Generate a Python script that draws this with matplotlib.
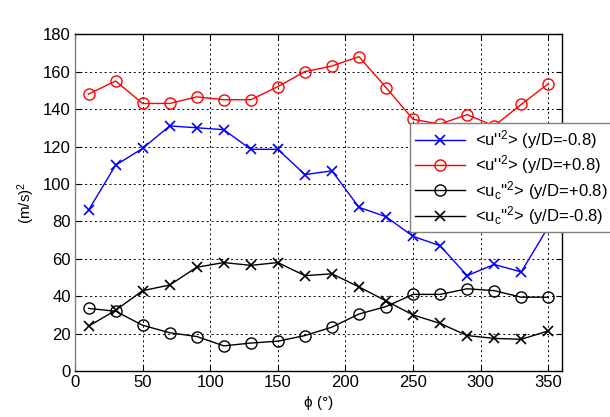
import numpy as np
import matplotlib.pyplot as plt

plt.rcParams['font.family'] = ['Liberation Sans', 'DejaVu Sans']
plt.rcParams['mathtext.default'] = 'regular'

phi = [10, 30, 50, 70, 90, 110, 130, 150, 170, 190, 210, 230, 250, 270, 290, 310, 330, 350]

# <u''^2> at y/D = -0.8 and +0.8
u_minus = [86, 110, 119, 131, 130, 129, 118.5, 118.5, 105, 107, 87.5, 82.5, 72, 67, 51, 57, 53, 77]
u_plus = [148, 155, 143, 143, 146.5, 145, 145, 152, 160, 163, 168, 151.5, 134.5, 132, 137, 131, 142.5, 153.5]

# <uc''^2> at y/D = +0.8 and -0.8
uc_plus = [33.5, 32, 24.5, 20.5, 18.5, 13.5, 15, 16, 19, 23.5, 30.5, 34.5, 41, 41, 44, 43, 39.5, 39.5]
uc_minus = [24, 32.5, 43, 46, 55.5, 58, 56.5, 58, 51, 52, 45, 37.5, 30, 25.5, 19, 17.5, 17, 21.5]

fig = plt.figure(figsize=(6.1, 4.17), dpi=100)
ax = fig.add_axes([0.123, 0.110, 0.798, 0.808])

ax.plot(phi, u_minus, color='blue', marker='x', ms=7, lw=1, mew=1.2,
        label="<u''$^2$> (y/D=-0.8)")
ax.plot(phi, u_plus, color='red', marker='o', ms=8, lw=1, mfc='none', mew=1,
        label="<u''$^2$> (y/D=+0.8)")
ax.plot(phi, uc_plus, color='black', marker='o', ms=8, lw=1, mfc='none', mew=1,
        label="<u$_c$''$^2$> (y/D=+0.8)")
ax.plot(phi, uc_minus, color='black', marker='x', ms=7, lw=1, mew=1.2,
        label="<u$_c$''$^2$> (y/D=-0.8)")

ax.set_xlim(0, 360)
ax.set_ylim(0, 180)
ax.set_xticks(np.arange(0, 351, 50))
ax.set_yticks(np.arange(0, 181, 20))
ax.tick_params(direction='in', labelsize=12, top=True, right=True, length=4, pad=3)
ax.grid(True, color='black', linestyle=(0, (2, 3)), linewidth=0.7)
for s in ax.spines.values():
    s.set_linewidth(1)
ax.spines['left'].set_color('gray')

ax.set_xlabel('ϕ (°)', fontsize=11)
ax.set_ylabel('(m/s)$^2$', fontsize=11)

leg = ax.legend(loc='upper left', bbox_to_anchor=(0.688, 0.736), fontsize=12,
                fancybox=False, framealpha=1, edgecolor='gray',
                handlelength=3.0, handletextpad=0.6, borderaxespad=0,
                borderpad=0.3, labelspacing=0.15)
leg.get_frame().set_linewidth(1)

fig.savefig('out.png', dpi=100)
